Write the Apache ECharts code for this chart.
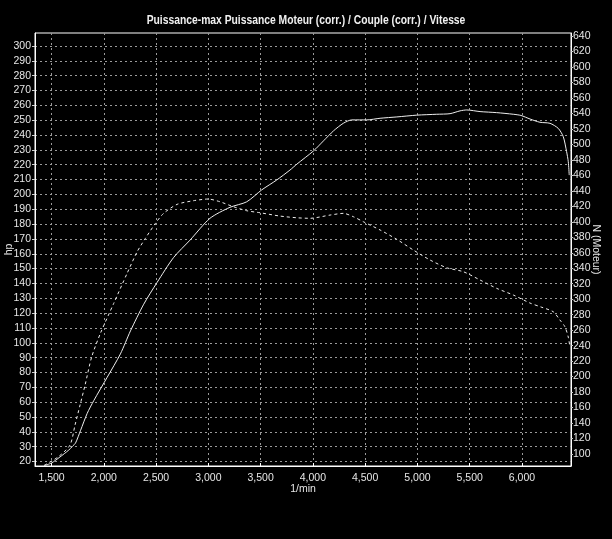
<!DOCTYPE html>
<html>
<head>
<meta charset="utf-8">
<script src="https://cdn.jsdelivr.net/npm/echarts@6/dist/echarts.min.js"></script>
<style>
html,body{margin:0;padding:0;background:#000;}
#c{width:612px;height:539px;}
</style>
</head>
<body>
<div id="c"></div>
<script>
const titleText = 'Puissance-max Puissance Moteur (corr.) / Couple (corr.) / Vitesse';
const xName = '1/min';
const leftName = 'hp';
const rightName = 'N (Moteur)';

const rpmTicks = [1500, 2000, 2500, 3000, 3500, 4000, 4500, 5000, 5500, 6000];
const hpTicks = [20, 30, 40, 50, 60, 70, 80, 90, 100, 110, 120, 130, 140, 150, 160, 170, 180, 190, 200, 210, 220, 230, 240, 250, 260, 270, 280, 290, 300];
const nmTicks = [100, 120, 140, 160, 180, 200, 220, 240, 260, 280, 300, 320, 340, 360, 380, 400, 420, 440, 460, 480, 500, 520, 540, 560, 580, 600, 620, 640];

// Power (hp) vs rpm
const powerRpm = [1430, 1500, 1580, 1665, 1700, 1730, 1778, 1841, 1904, 2032, 2159, 2255, 2382, 2510, 2668, 2825, 3016, 3207, 3367, 3510, 3654, 3781, 3847, 4006, 4102, 4197, 4293, 4373, 4516, 4643, 4803, 4994, 5185, 5312, 5408, 5472, 5599, 5758, 5917, 5990, 6077, 6172, 6268, 6347, 6395, 6427, 6443, 6452];
const powerHp = [17.2, 19, 23, 27.7, 30.2, 32.5, 41, 52.4, 61, 76.7, 92.5, 108, 126, 140.7, 157.5, 169.2, 183.9, 191.3, 195, 203, 209.7, 216.4, 220.4, 229.3, 236.1, 242.8, 248, 250.2, 250.2, 251.3, 252.2, 253.4, 254, 254.4, 256.3, 256.9, 255.8, 255.1, 254, 253.2, 250.8, 248.6, 247.9, 244.5, 238.9, 228.8, 222, 213];

// Torque (Nm) vs rpm
const torqueRpm = [1430, 1565, 1677, 1725, 1773, 1821, 1884, 1968, 2095, 2223, 2319, 2398, 2494, 2573, 2701, 2856, 3000, 3111, 3239, 3367, 3494, 3685, 3845, 3972, 4165, 4293, 4388, 4484, 4643, 4803, 4961, 5121, 5280, 5439, 5599, 5758, 5917, 6077, 6180, 6299, 6363, 6411, 6443, 6459];
const torqueNm = [85.5, 96.4, 111.6, 137.5, 163.3, 189.1, 225.3, 256, 294.6, 333.4, 361.3, 378.6, 398, 411, 422.5, 427.2, 429.4, 425.9, 419.5, 414.3, 411.7, 407.4, 405.2, 404.5, 408.7, 410.9, 406.5, 400, 389.4, 377.3, 363.5, 350.6, 340.6, 335.5, 324.8, 314, 305.4, 295, 290, 283.8, 273.1, 264.4, 251, 238];

const FONT = '"Liberation Sans", Arial, sans-serif';
const TXT = '#e6e6e6';

function fmtThousands(v) {
  return String(v).replace(/\B(?=(\d{3})+(?!\d))/g, ',');
}

const chart = echarts.init(document.getElementById('c'), null, {renderer: 'canvas'});
chart.setOption({
  backgroundColor: '#000',
  animation: false,
  graphic: [{
    type: 'text', left: 'center', top: 15, scaleX: 0.86, originX: 0, originY: 0,
    style: {text: titleText, fill: '#f0f0f0', font: 'bold 12px "Liberation Sans", Arial, sans-serif'}
  }],
  grid: {
    left: 35, right: 41, top: 33, bottom: 73,
    outerBoundsMode: 'none', containLabel: false,
    show: true, borderColor: '#ffffff', borderWidth: 1, backgroundColor: '#000'
  },
  xAxis: {
    type: 'value', min: 1342, max: 6469,
    name: xName, nameLocation: 'middle', nameGap: 18, nameMoveOverlap: false,
    nameTextStyle: {color: TXT, fontFamily: FONT, fontSize: 10.5},
    axisLine: {show: true, lineStyle: {color: '#fff', width: 1}},
    axisTick: {show: true, customValues: rpmTicks, length: 3, inside: true, lineStyle: {color: '#fff'}},
    axisLabel: {customValues: rpmTicks, color: TXT, fontFamily: FONT, fontSize: 10.5, margin: 7, formatter: fmtThousands},
    splitLine: {show: true, lineStyle: {color: '#9a9a9a', width: 1, type: [2, 3]}}
  },
  yAxis: [{
    type: 'value', min: 16.97, max: 308.76, position: 'left',
    name: leftName, nameLocation: 'middle', nameGap: 20, nameRotate: 90, nameMoveOverlap: false,
    nameTextStyle: {color: TXT, fontFamily: FONT, fontSize: 10.5},
    axisLine: {show: true, lineStyle: {color: '#fff', width: 1}},
    axisTick: {show: true, customValues: hpTicks, length: 3, lineStyle: {color: '#ccc'}},
    axisLabel: {customValues: hpTicks, color: TXT, fontFamily: FONT, fontSize: 10.5, margin: 4},
    splitLine: {show: true, lineStyle: {color: '#9a9a9a', width: 1, type: [2, 3]}}
  }, {
    type: 'value', min: 84.5, max: 643.9, position: 'right',
    name: rightName, nameLocation: 'middle', nameGap: 19, nameRotate: -90, nameMoveOverlap: false,
    nameTextStyle: {color: TXT, fontFamily: FONT, fontSize: 10.5},
    axisLine: {show: true, lineStyle: {color: '#fff', width: 1}},
    axisTick: {show: true, customValues: nmTicks, length: 2, lineStyle: {color: '#ccc'}},
    axisLabel: {customValues: nmTicks, color: TXT, fontFamily: FONT, fontSize: 10.5, margin: 2},
    splitLine: {show: false}
  }],
  series: [{
    name: 'Puissance', type: 'line', yAxisIndex: 0, showSymbol: false, smooth: 0.25,
    lineStyle: {color: '#eeeeee', width: 1},
    data: powerRpm.map((r, i) => [r, powerHp[i]])
  }, {
    name: 'Couple', type: 'line', yAxisIndex: 1, showSymbol: false, smooth: 0.25,
    lineStyle: {color: '#eeeeee', width: 1, type: [3, 3]},
    data: torqueRpm.map((r, i) => [r, torqueNm[i]])
  }]
});
</script>
</body>
</html>
